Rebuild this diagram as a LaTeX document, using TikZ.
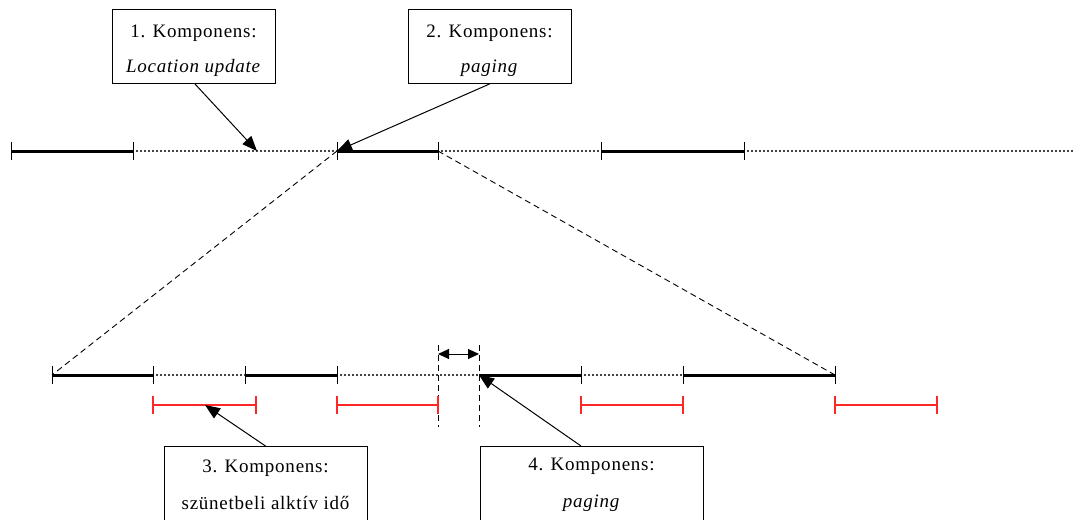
\documentclass[tikz,border=0pt]{standalone}
\usepackage{fontspec}
\setmainfont{Liberation Serif}[LetterSpace=4]
\usetikzlibrary{arrows.meta,calc}
\newcommand{\topstrut}{\rule{0pt}{21pt}}
\begin{document}
\begin{tikzpicture}[x=1pt,y=-1pt,
  solidseg/.style={line width=3pt},
  dotseg/.style={line width=2.3pt,line cap=round,dash pattern=on 0pt off 4pt},
  tickmark/.style={line width=1pt},
  redseg/.style={red!85,line width=1.1pt},
  zoomline/.style={line width=0.9pt,dash pattern=on 6pt off 4pt},
  marker/.style={line width=1pt,dash pattern=on 6pt off 4pt},
  pointer/.style={line width=1pt,-{Triangle[length=15pt,width=12pt]}},
  compbox/.style={draw,line width=1pt,minimum width=#1,align=center,
    font=\fontsize{19}{37}\selectfont,inner sep=0pt},
  topbox/.style={compbox=163pt,minimum height=74pt,anchor=north,
    font=\fontsize{19}{35}\selectfont},
]
\useasboundingbox (0,0) rectangle (1075,519);
\clip (0,0) rectangle (1075,519);

% ---- upper time line ----
\foreach \x in {11,133,337,438,601,744}
  \coordinate (t\x) at (\x,151);
\coordinate (tend) at (1075,151);
\draw[solidseg] (t11) -- (t133);
\draw[solidseg] (t337) -- (t438);
\draw[solidseg] (t601) -- (t744);
\draw[dotseg] (t133) -- (t337);
\draw[dotseg] (t438) -- (t601);
\draw[dotseg] (t744) -- (tend);
\foreach \x in {11,133,337,438,601,744}
  \draw[tickmark] ($(t\x)+(0,-9)$) -- ($(t\x)+(0,9)$);
\coordinate (lu) at (257,151);

% ---- lower time line (zoomed) ----
\foreach \x in {52,153,245,337,479,581,683,835}
  \coordinate (b\x) at (\x,375);
\draw[solidseg] (b52) -- (b153);
\draw[solidseg] (b245) -- (b337);
\draw[solidseg] (b479) -- (b581);
\draw[solidseg] (b683) -- (b835);
\draw[dotseg] (b153) -- (b245);
\draw[dotseg] (b337) -- (b479);
\draw[dotseg] (b581) -- (b683);
\foreach \x in {52,153,245,337,581,683,835}
  \draw[tickmark] ($(b\x)+(0,-9)$) -- ($(b\x)+(0,9)$);

% zoom guides
\draw[zoomline] (t337) -- (b52);
\draw[zoomline] (t438) -- (b835);

% offset markers
\coordinate (m1top) at (438,345);
\coordinate (m1bot) at (438,427);
\coordinate (m2top) at (479,345);
\coordinate (m2bot) at (479,427);
\draw[marker] (m1top) -- (m1bot);
\draw[marker] (m2top) -- (m2bot);
\draw[line width=1pt,{Triangle[length=11pt,width=10pt]}-{Triangle[length=11pt,width=10pt]}]
  (438,354) -- (479,354);

% ---- active periods ----
\foreach \a/\b in {153/256,337/438,581/683,835/937}{
  \coordinate (r\a) at (\a,405);
  \coordinate (s\a) at (\b,405);
  \draw[redseg] (r\a) -- (s\a);
  \draw[redseg] ($(r\a)+(0,-9)$) -- ($(r\a)+(0,9)$);
  \draw[redseg] ($(s\a)+(0,-9)$) -- ($(s\a)+(0,9)$);
}
\coordinate (ra) at (205,405);

% ---- component boxes ----
\node[topbox] (k1) at (193.5,9)
  {\topstrut 1. Komponens:\\\textit{Location update}};
\node[topbox] (k2) at (489.5,9)
  {\topstrut 2. Komponens:\\\textit{paging}};
\node[compbox=203pt,minimum height=77pt,anchor=north] (k3) at (265.5,446)
  {3. Komponens:\\szünetbeli alktív idő};
\node[compbox=223pt,minimum height=77pt,anchor=north] (k4) at (591.5,446)
  {4. Komponens:\\\textit{paging}};

% ---- pointers ----
\draw[pointer] ($(k1.south)+(1.5,0)$) -- (lu);
\draw[pointer] (k2.south) -- (t337);
\draw[pointer] (k3.north) -- (ra);
\draw[pointer] ($(k4.north)+(-10.5,0)$) -- (b479);
\end{tikzpicture}
\end{document}
